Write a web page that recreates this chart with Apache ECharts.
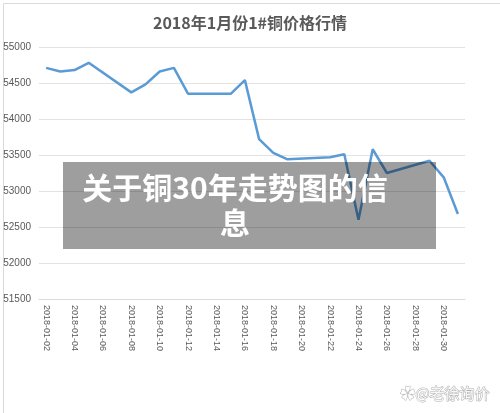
<!DOCTYPE html>
<html>
<head>
<meta charset="utf-8">
<script src="https://cdn.jsdelivr.net/npm/echarts@6/dist/echarts.min.js"></script>
<style>
  html, body { margin: 0; padding: 0; background: #fff; }
  #chart { width: 500px; height: 413px; }
</style>
</head>
<body>
<div id="chart"></div>
<script>
// 2018年1月 日期（含周末，周末为空值）
const dates = [
  "2018-01-02", "2018-01-03", "2018-01-04", "2018-01-05", "2018-01-06",
  "2018-01-07", "2018-01-08", "2018-01-09", "2018-01-10", "2018-01-11",
  "2018-01-12", "2018-01-13", "2018-01-14", "2018-01-15", "2018-01-16",
  "2018-01-17", "2018-01-18", "2018-01-19", "2018-01-20", "2018-01-21",
  "2018-01-22", "2018-01-23", "2018-01-24", "2018-01-25", "2018-01-26",
  "2018-01-27", "2018-01-28", "2018-01-29", "2018-01-30", "2018-01-31"
];
// 1#铜价格（元/吨）
const prices = [
  54710, 54660, 54680, 54780, null,
  null, 54370, 54480, 54660, 54710,
  54350, null, null, 54350, 54540,
  53720, 53530, 53440, null, null,
  53470, 53510, 52600, 53580, 53250,
  null, null, 53420, 53190, 52680
];
const yMin = 51500;
const yMax = 55000;
const yStep = 500;

const chart = echarts.init(document.getElementById("chart"));

chart.setOption({
  animation: false,
  title: {
    text: "2018年1月份1#铜价格行情",
    left: "center",
    top: 10,
    textStyle: {
      fontFamily: "Noto Sans CJK SC",
      fontSize: 16,
      fontWeight: "bold",
      color: "#595959",
    },
  },
  grid: {
    left: 39,
    right: 35,
    top: 47,
    bottom: 114,
  },
  xAxis: {
    type: "category",
    data: dates,
    boundaryGap: true,
    axisLine: { lineStyle: { color: "#d9d9d9" } },
    axisTick: { interval: 1, length: 4, lineStyle: { color: "#d9d9d9" } },
    axisLabel: {
      interval: 1,
      rotate: -90,
      margin: 6,
      fontSize: 9,
      fontFamily: "Liberation Sans",
      color: "#595959",
    },
  },
  yAxis: {
    type: "value",
    min: yMin,
    max: yMax,
    interval: yStep,
    axisLine: { show: false },
    axisTick: { show: false },
    splitLine: { lineStyle: { color: "#e3e3e3" } },
    axisLabel: {
      margin: 8,
      fontSize: 10,
      fontFamily: "Liberation Sans",
      color: "#595959",
      formatter: (v) => String(v),
    },
  },
  series: [
    {
      name: "1#铜",
      type: "line",
      data: prices,
      connectNulls: true,
      showSymbol: false,
      symbol: "none",
      lineStyle: { color: "#5b9bd5", width: 2.5 },
      itemStyle: { color: "#5b9bd5" },
    },
  ],
  graphic: [
    {
      type: "rect",
      left: 1,
      top: 1,
      shape: { width: 497, height: 410 },
      style: { fill: "none", stroke: "#d9d9d9", lineWidth: 1 },
      z: 0,
    },
    {
      type: "rect",
      left: 63,
      top: 162,
      shape: { width: 373, height: 87 },
      style: { fill: "rgba(0,0,0,0.38)" },
      z: 100,
    },
    {
      type: "text",
      x: 235,
      y: 170,
      style: {
        text: "关于铜30年走势图的信\n息",
        fill: "#ffffff",
        font: "bold 30px 'Noto Sans CJK SC'",
        align: "center",
        lineHeight: 35,
      },
      z: 101,
    },
    {
      type: "text",
      right: 10,
      top: 385,
      style: {
        text: "✿@老徐询价",
        fill: "rgba(255,255,255,0.9)",
        stroke: "#b0b0b0",
        lineWidth: 1,
        font: "15px 'Noto Sans CJK SC'",
      },
      z: 101,
    },
  ],
});
</script>
</body>
</html>
